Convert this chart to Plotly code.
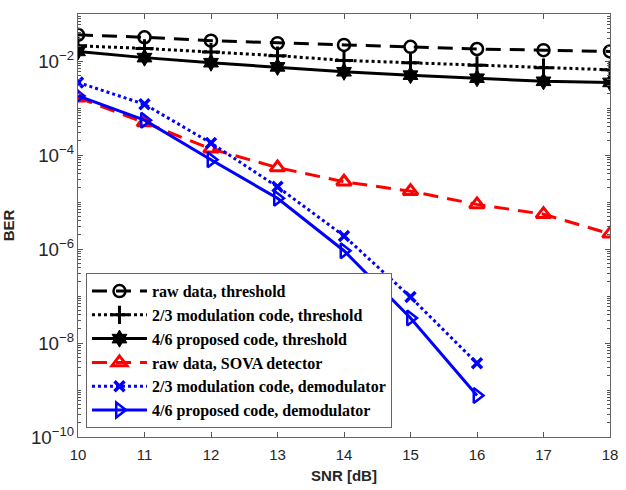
import plotly.graph_objects as go

snr = [10, 11, 12, 13, 14, 15, 16, 17, 18]
snr_demod = [10, 11, 12, 13, 14, 15, 16]

raw_threshold = [0.036, 0.032, 0.027, 0.024, 0.022, 0.020, 0.018, 0.017, 0.016]
mod23_threshold = [0.021, 0.0185, 0.0155, 0.013, 0.0103, 0.0092, 0.0081, 0.0072, 0.0065]
prop46_threshold = [0.016, 0.0118, 0.0092, 0.0075, 0.0059, 0.0050, 0.0043, 0.0037, 0.0035]
raw_sova = [1.66e-3, 4.9e-4, 1.35e-4, 5.4e-5, 2.7e-5, 1.7e-5, 8.9e-6, 5.5e-6, 2.1e-6]
mod23_demod = [3.5e-3, 1.2e-3, 1.8e-4, 2.1e-5, 1.9e-6, 9.5e-8, 3.7e-9]
prop46_demod = [1.8e-3, 5.5e-4, 7.9e-5, 1.2e-5, 9.2e-7, 3.4e-8, 7.6e-10]

names = [
    "raw data, threshold",
    "2/3 modulation code, threshold",
    "4/6 proposed code, threshold",
    "raw data, SOVA detector",
    "2/3 modulation code, demodulator",
    "4/6 proposed code, demodulator",
]

fig = go.Figure()

def add(x, y, name, color, dash, symbol, size, mlw=2.5):
    fig.add_trace(go.Scatter(
        x=x, y=y, name="<b>" + name + "</b>", mode="lines+markers",
        line=dict(color=color, width=3, dash=dash),
        marker=dict(symbol=symbol, size=size, color=color,
                    line=dict(color=color, width=mlw)),
    ))

add(snr, raw_threshold, names[0], "black", "15px,9px", "circle-open", 12)
add(snr, mod23_threshold, names[1], "black", "dot", "cross-thin-open", 13, 3)
add(snr, prop46_threshold, names[2], "black", "solid", "hexagram", 13, 1)
add(snr, raw_sova, names[3], "#ff0000", "15px,9px", "triangle-up-open", 13, 3)
add(snr_demod, mod23_demod, names[4], "#0000ff", "dot", "x-thin-open", 10, 3.5)
add(snr_demod, prop46_demod, names[5], "#0000ff", "solid", "triangle-right-open", 13, 2.5)

axis_common = dict(
    showline=True, linecolor="#666666", linewidth=1, mirror="ticks",
    ticks="inside", tickcolor="#555555", ticklen=5,
    showgrid=False, zeroline=False, ticklabeloverflow="allow",
    tickfont=dict(family="Liberation Sans, Arial", size=15, color="#262626"),
)

fig.update_xaxes(
    range=[10, 18], dtick=1, ticklabelstandoff=4,
    title=dict(text="<b>SNR [dB]</b>", font=dict(family="Liberation Sans, Arial", size=15, color="#262626"), standoff=8),
    **axis_common,
)
fig.update_yaxes(
    type="log", range=[-10, -1], dtick=2, exponentformat="power",
    minor=dict(dtick="D1", ticks="inside", ticklen=3, tickcolor="#555555", showgrid=False),
    title=dict(text="<b>BER</b>", font=dict(family="Liberation Sans, Arial", size=15, color="#262626"), standoff=12),
    **axis_common,
)

fig.update_layout(
    width=626, height=490,
    margin=dict(l=74, r=8, t=14, b=51),
    plot_bgcolor="white", paper_bgcolor="white",
    legend=dict(
        x=0.015, y=0.021, xanchor="left", yanchor="bottom",
        bgcolor="white", bordercolor="#666666", borderwidth=1,
        font=dict(family="Liberation Serif, Times New Roman", size=16, color="black"),
        tracegroupgap=0, itemwidth=55,
    ),
)

# remove the page's default body margin so the 626x490 figure fills the window exactly
fig.write_html("out.html", config={"displayModeBar": False},
               post_script="document.body.style.margin='0px';")
